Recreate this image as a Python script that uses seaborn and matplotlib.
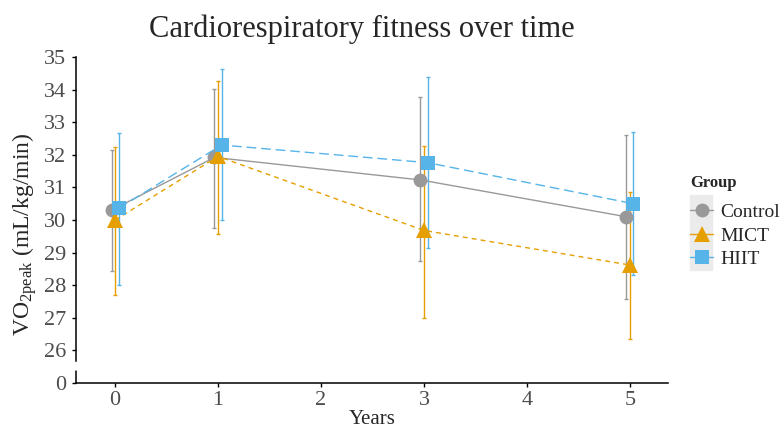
import numpy as np
import pandas as pd
import matplotlib.pyplot as plt
import seaborn as sns
from matplotlib.patches import Rectangle
from matplotlib.lines import Line2D

# ---- data ----
years = [0, 1, 3, 5]
groups = ["Control", "MICT", "HIIT"]
control_mean = [30.3, 31.92, 31.23, 30.1]
control_low = [28.45, 29.77, 28.73, 27.58]
control_high = [32.15, 34.03, 33.77, 32.62]
mict_mean = [30.0, 31.95, 29.68, 28.62]
mict_low = [27.69, 29.57, 26.99, 26.36]
mict_high = [32.23, 34.25, 32.28, 30.86]
hiit_mean = [30.36, 32.3, 31.76, 30.5]
hiit_low = [28.01, 30.0, 29.15, 28.3]
hiit_high = [32.68, 34.63, 34.38, 32.69]

colors = {"Control": "#999999", "MICT": "#E69F00", "HIIT": "#56B4E9"}
markers = {"Control": "o", "MICT": "^", "HIIT": "s"}
dashes = {"Control": "", "MICT": (3.5, 3), "HIIT": (7, 3.5)}
offsets = {"Control": -0.035, "MICT": 0.0, "HIIT": 0.035}

rows = []
for g, m, lo, hi in [("Control", control_mean, control_low, control_high),
                     ("MICT", mict_mean, mict_low, mict_high),
                     ("HIIT", hiit_mean, hiit_low, hiit_high)]:
    for yr, a, b, c in zip(years, m, lo, hi):
        rows.append({"Group": g, "Years": yr + offsets[g], "VO2": a, "low": b, "high": c})
df = pd.DataFrame(rows)

sns.set_theme(style="white")
plt.rcParams['font.family'] = ['Liberation Serif', 'DejaVu Serif']
plt.rcParams['mathtext.fontset'] = 'custom'
plt.rcParams['mathtext.rm'] = 'Liberation Serif'
plt.rcParams['mathtext.it'] = 'Liberation Serif'

fig = plt.figure(figsize=(7.81, 4.32), dpi=100)
ax = fig.add_axes([0.0973, 0.1134, 0.758, 0.7546])

# error bars first so points sit on top
for g in groups:
    sub = df[df["Group"] == g]
    ax.errorbar(sub["Years"], sub["VO2"],
                yerr=[sub["VO2"] - sub["low"], sub["high"] - sub["VO2"]],
                fmt="none", ecolor=colors[g], elinewidth=1.0, capsize=1.6,
                capthick=1.0, zorder=2)

sns.lineplot(data=df, x="Years", y="VO2", hue="Group", style="Group",
             hue_order=groups, style_order=groups, palette=colors,
             markers=markers, dashes=dashes, markersize=10,
             markeredgewidth=0, linewidth=1.0, legend=False, ax=ax, zorder=3,
             sort=True, estimator=None)
for ln in ax.lines:
    if ln.get_marker() == "^":
        ln.set_markersize(12)

# axis with break: "0" label sits at 25
ax.set_xlim(-0.38, 5.37)
ax.set_ylim(25, 35)
ax.set_xticks([0, 1, 2, 3, 4, 5])
ax.set_yticks([25] + list(range(26, 36)))
ax.set_yticklabels(["0"] + [str(v) for v in range(26, 36)])
ax.tick_params(axis="both", labelsize=16, labelcolor="#4D4D4D", length=3,
               width=1.0, color="black", left=True, bottom=True)
ax.tick_params(axis="y", pad=4)
ax.tick_params(axis="x", pad=3)

for s in ["top", "right"]:
    ax.spines[s].set_visible(False)
ax.spines["left"].set_color("black")
ax.spines["bottom"].set_color("black")
ax.spines["left"].set_linewidth(1.1)
ax.spines["bottom"].set_linewidth(1.1)
ax.spines["left"].set_bounds(25.67, 35)
ax.plot([0, 0], [25, 25.36], transform=ax.get_yaxis_transform(),
        color="black", lw=1.1, clip_on=False)

ax.set_xlabel("Years", fontsize=15, labelpad=0)
ax.set_ylabel(r"VO$_{\mathrm{2peak}}$ (mL/kg/min)", fontsize=17)
ax.yaxis.set_label_coords(-0.062, 0.457)
ax.set_title("Cardiorespiratory fitness over time", fontsize=22, pad=14.5, x=0.482)

# legend
handles = [Line2D([0], [0], color=colors[g], marker=markers[g],
                  markersize=12 if g == "MICT" else 10,
                  markeredgewidth=0, lw=1.0, linestyle="-") for g in groups]
fig.patches.append(Rectangle((690 / 781, 1 - 270 / 432), 22 / 781, 75 / 432,
                             transform=fig.transFigure, color="#EBEBEB",
                             zorder=0))
leg = fig.legend(handles, groups, title="Group", loc="upper left",
                 bbox_to_anchor=(690 / 781, 1 - 175 / 432), frameon=False,
                 fontsize=14, title_fontsize=12, handlelength=1.2,
                 handletextpad=0.36, labelspacing=0.3, borderaxespad=0,
                 borderpad=0)
leg.get_title().set_fontweight("bold")
leg._legend_box.align = "left"
leg._legend_box.sep = 9

plt.savefig("out.png", dpi=100)
